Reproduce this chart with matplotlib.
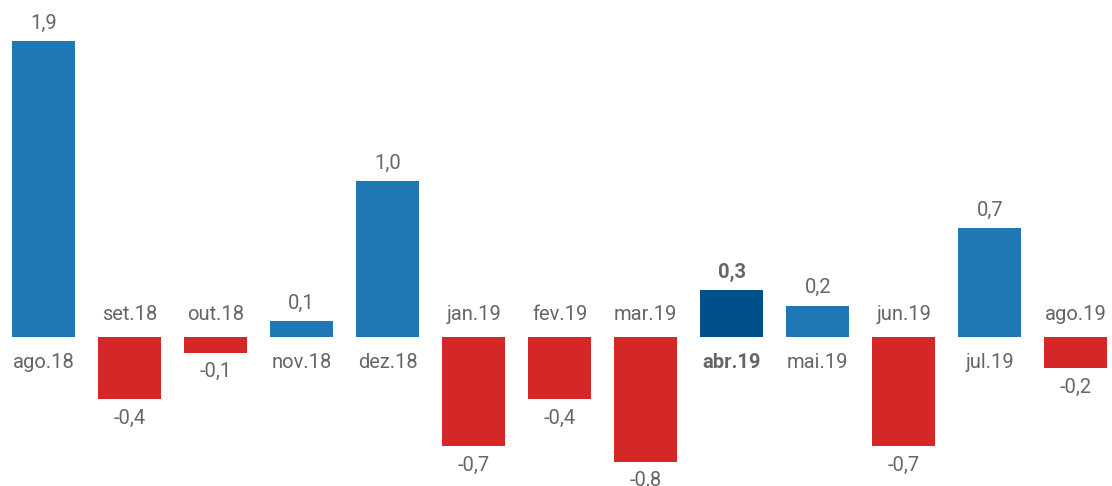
import matplotlib
matplotlib.use("Agg")
import matplotlib.pyplot as plt

months = ["ago.18", "set.18", "out.18", "nov.18", "dez.18", "jan.19", "fev.19",
          "mar.19", "abr.19", "mai.19", "jun.19", "jul.19", "ago.19"]
values = [1.9, -0.4, -0.1, 0.1, 1.0, -0.7, -0.4, -0.8, 0.3, 0.2, -0.7, 0.7, -0.2]
highlight = "abr.19"

BLUE = "#1f77b4"
DARK = "#00508c"
RED = "#d62728"
TXT = "#666666"

plt.rcParams['font.family'] = ['Roboto', 'DejaVu Sans']

fig = plt.figure(figsize=(11.12, 4.86), dpi=100)
ax = fig.add_axes([0, 0, 1, 1])
x = list(range(len(months)))
colors = []
for m, v in zip(months, values):
    if m == highlight:
        colors.append(DARK)
    elif v >= 0:
        colors.append(BLUE)
    else:
        colors.append(RED)
ax.bar(x, values, width=0.735, color=colors)
ax.set_xlim(-0.506, 12.42)
ax.set_ylim(-0.956, 2.163)
ax.axis("off")

fs = 14.5
for xi, m, v in zip(x, months, values):
    w = "bold" if m == highlight else "normal"
    lab = f"{v:.1f}".replace(".", ",")
    if v >= 0:
        ax.annotate(lab, (xi, v), xytext=(0, 18), textcoords="offset pixels",
                    ha="center", va="center", fontsize=fs, color=TXT, fontweight=w)
        ax.annotate(m, (xi, 0), xytext=(0, -25), textcoords="offset pixels",
                    ha="center", va="center", fontsize=fs, color=TXT, fontweight=w)
    else:
        ax.annotate(lab, (xi, v), xytext=(0, -19), textcoords="offset pixels",
                    ha="center", va="center", fontsize=fs, color=TXT, fontweight=w)
        ax.annotate(m, (xi, 0), xytext=(0, 23), textcoords="offset pixels",
                    ha="center", va="center", fontsize=fs, color=TXT, fontweight=w)

fig.savefig("out.png", dpi=100)
